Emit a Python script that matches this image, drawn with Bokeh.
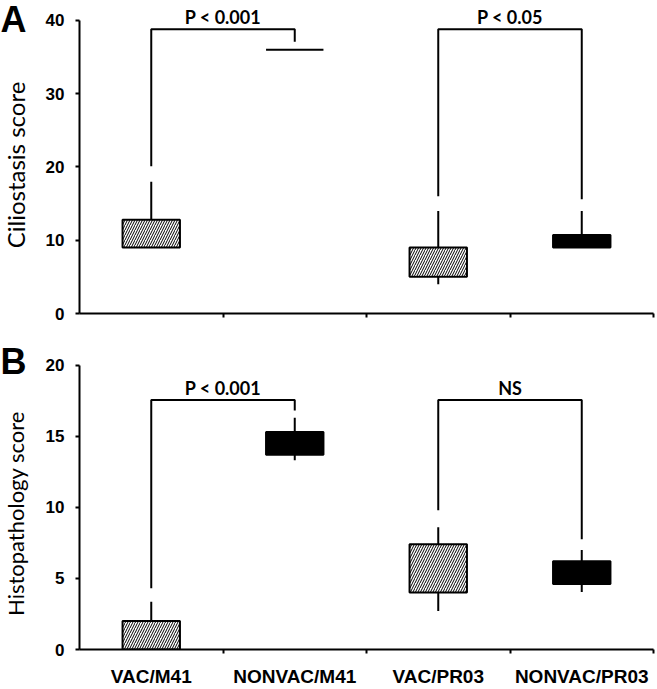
import math
from bokeh.plotting import figure
from bokeh.models import FixedTicker, Range1d
from bokeh.layouts import column, row
from bokeh.embed import file_html
from bokeh.resources import INLINE
from bokeh.core.properties import value

categories = ["VAC/M41", "NONVAC/M41", "VAC/PR03", "NONVAC/PR03"]
hatched = [True, False, True, False]

# Panel A: ciliostasis score
a_q1 = [9, 36, 5, 9]
a_q3 = [12.8, 36, 9, 10.7]
a_lo = [9, 36, 4, 9]
a_hi = [18, 36, 14, 14]
a_brackets_from = [0, 2]
a_brackets_to = [1, 3]
a_brackets_y = [38.8, 38.8]
a_leg_left = [20.1, 16.0]
a_leg_right = [37.1, 15.6]
a_labels = ["P < 0.001", "P < 0.05"]

# Panel B: histopathology score
b_q1 = [0, 13.7, 4.0, 4.6]
b_q3 = [2, 15.3, 7.4, 6.2]
b_lo = [0, 13.3, 2.7, 4.05]
b_hi = [3.35, 16.3, 8.6, 7.0]
b_brackets_from = [0, 2]
b_brackets_to = [1, 3]
b_brackets_y = [17.55, 17.55]
b_leg_left = [4.3, 9.8]
b_leg_right = [16.8, 7.75]
b_labels = ["P < 0.001", "NS"]

a_ticks = [0, 10, 20, 30, 40]
b_ticks = [0, 5, 10, 15, 20]
panel_letters = ["A", "B"]
y_titles = ["Ciliostasis score", "Histopathology score"]

TICK_FONT = "Liberation Sans"
TITLE_FONT = "Lato"

TOTAL_H = 689
LEFT_W = 30
MAIN_W = 625


def panel(q1, q3, lo, hi, bfrom, bto, by, bl, br, blabels, yticks, ymax_axis,
          yend, height, top, bottom, show_x):
    p = figure(width=MAIN_W, height=height, output_backend="svg", toolbar_location=None,
               x_range=Range1d(0, len(categories)), y_range=Range1d(0, yend),
               min_border_left=49, min_border_right=2, min_border_top=top,
               min_border_bottom=bottom)
    p.outline_line_color = None
    p.xgrid.visible = False
    p.ygrid.visible = False
    p.background_fill_color = "white"
    p.border_fill_color = "white"

    xc = [i + 0.5 for i in range(len(categories))]
    hw = 0.2
    # whiskers
    p.segment(x0=xc, x1=xc, y0=q3, y1=hi, line_color="black", line_width=2)
    p.segment(x0=xc, x1=xc, y0=q1, y1=lo, line_color="black", line_width=2)
    # boxes
    hx = [x for x, h in zip(xc, hatched) if h]
    sx = [x for x, h in zip(xc, hatched) if not h]
    p.quad(left=[x - hw for x in hx], right=[x + hw for x in hx],
           bottom=[v for v, h in zip(q1, hatched) if h], top=[v for v, h in zip(q3, hatched) if h],
           fill_color="white", line_color="black", line_width=2,
           hatch_pattern="/", hatch_color="black", hatch_scale=5, hatch_weight=1)
    p.quad(left=[x - hw for x in sx], right=[x + hw for x in sx],
           bottom=[v for v, h in zip(q1, hatched) if not h], top=[v for v, h in zip(q3, hatched) if not h],
           fill_color="black", line_color="black", line_width=2)
    # significance brackets
    xs, ys = [], []
    for f, t, yb, l, r in zip(bfrom, bto, by, bl, br):
        xs.append([xc[f], xc[f], xc[t], xc[t]])
        ys.append([l, yb, yb, r])
    p.multi_line(xs=xs, ys=ys, line_color="black", line_width=2)
    p.text(x=[(xc[f] + xc[t]) / 2 for f, t in zip(bfrom, bto)], y=by, text=blabels,
           text_align="center", text_baseline="bottom", y_offset=-1,
           text_font=value(TITLE_FONT), text_font_style="bold", text_font_size="18px",
           text_color="black")

    # y axis
    ya = p.yaxis[0]
    ya.ticker = FixedTicker(ticks=yticks, minor_ticks=[])
    ya.bounds = (0, ymax_axis)
    ya.axis_line_width = 2
    ya.major_tick_line_width = 2
    ya.major_tick_out = 4
    ya.major_tick_in = 0
    ya.major_label_standoff = 11
    ya.major_label_text_font = TICK_FONT
    ya.major_label_text_font_style = "bold"
    ya.major_label_text_font_size = "17px"
    ya.major_label_text_color = "black"

    # x axis: labels at group centres, separator ticks between groups
    xa = p.xaxis[0]
    xa.axis_line_width = 2
    xa.major_tick_out = 0
    xa.major_tick_in = 0
    xa.minor_tick_out = 4
    xa.minor_tick_in = 0
    xa.minor_tick_line_width = 2
    if show_x:
        xa.ticker = FixedTicker(ticks=xc, minor_ticks=[1, 2, 3, 4])
        xa.major_label_overrides = {x: c for x, c in zip(xc, categories)}
        xa.major_label_text_font = TICK_FONT
        xa.major_label_text_font_style = "bold"
        xa.major_label_text_color = "black"
        xa.major_label_text_font_size = "19px"
        xa.major_label_standoff = 12
    else:
        xa.ticker = FixedTicker(ticks=[], minor_ticks=[1, 2, 3, 4])
    return p


pa = panel(a_q1, a_q3, a_lo, a_hi, a_brackets_from, a_brackets_to, a_brackets_y,
           a_leg_left, a_leg_right, a_labels, a_ticks, 40, 42.73, 333, 0, 20, False)
pb = panel(b_q1, b_q3, b_lo, b_hi, b_brackets_from, b_brackets_to, b_brackets_y,
           b_leg_left, b_leg_right, b_labels, b_ticks, 20, 21.73, 356, 7, 36, True)

# left strip with panel letters and axis titles (pixel coordinates from the top)
lf = figure(width=LEFT_W, height=TOTAL_H, output_backend="svg", toolbar_location=None,
            x_range=Range1d(0, LEFT_W), y_range=Range1d(0, TOTAL_H),
            x_axis_type=None, y_axis_type=None,
            min_border_left=0, min_border_right=0, min_border_top=0, min_border_bottom=0)
lf.outline_line_color = None
lf.xgrid.visible = False
lf.ygrid.visible = False
letter_mid = [18.5, 361]
title_centre = [164.5, 513]
title_sizes = ["24px", "22px"]
lf.text(x=[0, 0], y=[TOTAL_H - v for v in letter_mid], text=panel_letters,
        text_align="left", text_baseline="middle",
        text_font=value(TICK_FONT), text_font_style="bold", text_font_size="36px",
        text_color="black")
for t, c, s in zip(y_titles, title_centre, title_sizes):
    lf.text(x=[15], y=[TOTAL_H - c], text=[t],
            angle=math.pi / 2, text_align="center", text_baseline="middle",
            text_font=value(TITLE_FONT), text_font_size=s, text_color="black")

layout = row(lf, column(pa, pb))
open("out.html", "w").write(file_html(layout, INLINE))
